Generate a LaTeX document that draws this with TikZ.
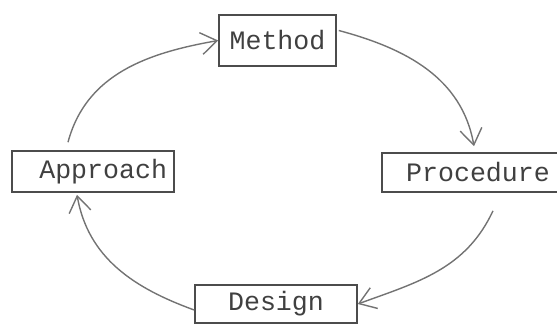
\documentclass[tikz,border=0pt]{standalone}
\usepackage{fontspec}
\setmonofont{Liberation Mono}
\usepackage{tikz}
\usetikzlibrary{arrows.meta}
\tikzset{>={Straight Barb[length=8pt,width=11pt]}}
\tikzset{
  box/.style = {draw=black!70, line width=0.8pt, text=black!75, inner sep=0pt,
                font=\ttfamily\fontsize{13.3}{15}\selectfont},
  flow/.style = {->, draw=black!55, line width=0.7pt}
}

\begin{document}
\begin{tikzpicture}[x=0.5pt, y=0.5pt]
        \useasboundingbox (0,0) rectangle (557,328);
        \node[box, minimum width=58.5pt, minimum height=25.5pt] (method) at (277.5,287.5) {Method};
        \node[box, text width=74pt, inner xsep=3.5pt, minimum height=20.5pt, align=right] (approach) at (93,156.5) {Approach};
        \node[box, minimum width=96pt, minimum height=19.5pt] (procedure) at (478,155.5) {Procedure};
        \node[box, minimum width=81pt, minimum height=19pt] (design) at (276,24) {Design};
        \draw[flow] ([xshift=-12.5pt,yshift=4pt]approach.north) to[out=75,in=190] (method.west);
        \draw[flow] ([xshift=1pt,yshift=5pt]method.east) to[out=-15,in=100] ([xshift=-2pt,yshift=3pt]procedure.north);
        \draw[flow] ([xshift=7.5pt,yshift=-9pt]procedure.south) to[out=-115,in=20] (design.east);
        \draw[flow] ([yshift=-3pt]design.west) to[out=160,in=-80] ([xshift=-8pt,yshift=-1pt]approach.south);
      \end{tikzpicture}
\end{document}
